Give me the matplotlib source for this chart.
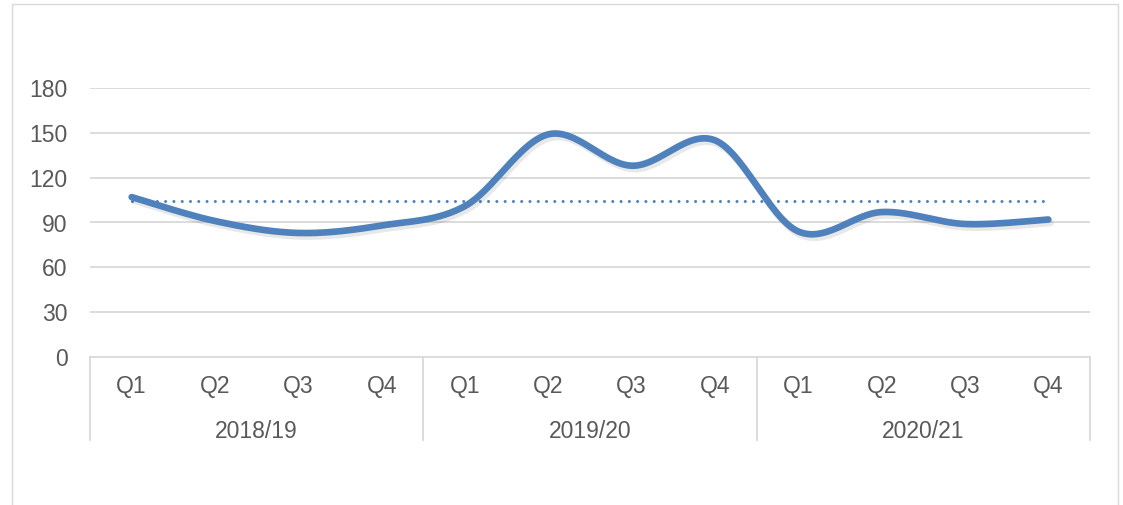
import numpy as np
import matplotlib.pyplot as plt
import matplotlib.patheffects as pe
from matplotlib.patches import Rectangle

plt.rcParams['font.family'] = ['Liberation Sans', 'DejaVu Sans']

years = ['2018/19', '2019/20', '2020/21']
quarters = ['Q1', 'Q2', 'Q3', 'Q4']
values = [107, 91, 83, 88, 101, 149, 128, 145, 84, 97, 89, 92]
yticks = [0, 30, 60, 90, 120, 150, 180]

blue = '#4F81BD'
grid = '#D9D9D9'
txt = '#595959'
fs = 16.5

W, H = 1123, 505
fig = plt.figure(figsize=(W / 100, H / 100), dpi=100)
fig.patches.append(Rectangle((12 / W, -0.1), 1106 / W, 1.1 - 4 / H, transform=fig.transFigure,
                             fill=False, edgecolor=grid, lw=1))

ax = fig.add_axes([90 / W, (H - 357) / H, 1000 / W, 269 / H])
ax.set_xlim(0, 12)
ax.set_ylim(0, 180)
for s in ['top', 'right', 'left']:
    ax.spines[s].set_visible(False)
ax.spines['bottom'].set_color(grid)
ax.spines['bottom'].set_linewidth(1.3)
ax.set_xticks([])
ax.set_yticks(yticks)
ax.tick_params(axis='y', length=0, pad=16, labelsize=fs, labelcolor=txt)
for t in yticks[1:]:
    ax.axhline(t, color=grid, lw=1.3, zorder=0)

# smoothed line (Excel-style bezier between points)
x = np.arange(len(values)) + 0.5
y = np.array(values, dtype=float)
pts = np.column_stack([x, y])
ext = np.vstack([pts[0], pts, pts[-1]])
t = np.linspace(0, 1, 30)[:, None]
curve = []
for i in range(len(pts) - 1):
    p0, p3 = ext[i + 1], ext[i + 2]
    c1 = p0 + (ext[i + 2] - ext[i]) / 6
    c2 = p3 - (ext[i + 3] - ext[i + 1]) / 6
    seg = (1 - t) ** 3 * p0 + 3 * (1 - t) ** 2 * t * c1 + 3 * (1 - t) * t ** 2 * c2 + t ** 3 * p3
    curve.append(seg)
curve = np.vstack(curve)

avg = np.mean(values)
ax.plot([x[0], x[-1]], [avg, avg], color=blue, lw=2.2, linestyle=(0, (0.01, 2.7)),
        dash_capstyle='round', zorder=2)
ax.plot(curve[:, 0], curve[:, 1], color=blue, lw=4.8, solid_capstyle='round', zorder=3,
        path_effects=[pe.SimpleLineShadow(offset=(1.5, -2.5), shadow_color='k', alpha=0.09),
                      pe.Normal()])

# multi-level category axis
trans = ax.get_xaxis_transform()
for b in [0, 4, 8, 12]:
    ax.plot([b, b], [0, -83 / 269], color=grid, lw=1.3, transform=trans, clip_on=False)
for i in range(12):
    ax.text(i + 0.5, -29 / 269, quarters[i % 4], transform=trans, ha='center', va='center',
            fontsize=fs, color=txt)
for j, yr in enumerate(years):
    ax.text(j * 4 + 2, -74 / 269, yr, transform=trans, ha='center', va='center',
            fontsize=fs, color=txt)

fig.savefig('out.png', dpi=100)
